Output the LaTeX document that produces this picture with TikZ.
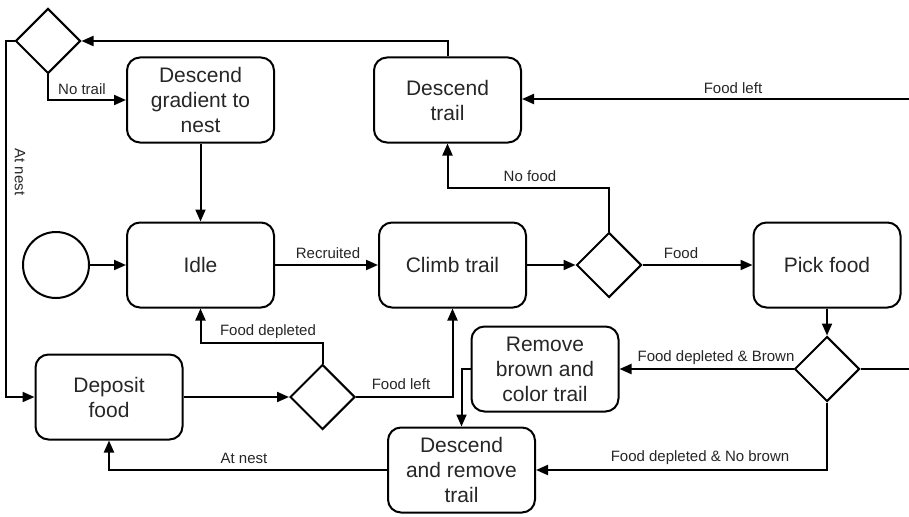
\documentclass[tikz,border=0pt]{standalone}
\usepackage{fontspec}
\setmainfont{Liberation Sans}
\usetikzlibrary{shapes.geometric,arrows.meta}
\begin{document}
\begin{tikzpicture}[x=1pt,y=-1pt,
 state/.style={draw,line width=2pt,rounded corners=13pt,minimum width=147pt,minimum height=85pt,align=center,font=\fontsize{21}{25}\selectfont,inner sep=0pt,text=black!85},
 choice/.style={draw,diamond,line width=2pt,minimum width=65pt,minimum height=65pt,inner sep=0pt},
 conn/.style={line width=2pt},
 arr/.style={conn,-{Triangle[length=12pt,width=10pt]}},
 lbl/.style={font=\fontsize{15}{18}\selectfont,inner sep=0pt,text=black!85}]
\useasboundingbox (0,0) rectangle (909,516);

% states
\node[state] (DG) at (200.5,100) {Descend\\gradient to\\nest};
\node[state] (DT) at (447.5,100) {Descend\\trail};
\node[state] (ID) at (200.5,265) {Idle};
\node[state] (CT) at (452.5,265) {Climb trail};
\node[state] (PF) at (827,265) {Pick food};
\node[state] (DF) at (109,397) {Deposit\\food};
\node[state] (RB) at (545,369) {Remove\\brown and\\color trail};
\node[state] (DR) at (461.5,470) {Descend\\and remove\\trail};
\node[draw,circle,line width=2pt,minimum size=66pt,inner sep=0pt] (C0) at (56,265) {};

% decisions
\node[choice] (D0) at (48,41) {};
\node[choice] (D1) at (609,265) {};
\node[choice] (D2) at (827,369) {};
\node[choice] (D3) at (322.5,397) {};

% free ends
\coordinate (E1) at (909,99);
\coordinate (E2) at (909,369);
\coordinate (L) at (6,41);

% connectors
\draw[arr] (DT.north) |- (D0.east);
\draw[arr] (D0.south) |- (DG.west);
\draw[arr] (D0.west) -- (L) |- (DF.west);
\draw[arr] (DG.south) -- (ID.north);
\draw[arr] (C0.east) -- (ID.west);
\draw[arr] (ID.east) -- (CT.west);
\draw[arr] (CT.east) -- (D1.west);
\draw[arr] (D1.east) -- (PF.west);
\draw[arr] (D1.north) -- ++(0,-44) -| (DT.south);
\draw[arr] (E1) -- (DT.east |- E1);
\draw[arr] (PF.south) -- (D2.north);
\draw[conn] (D2.east) -- (E2);
\draw[arr] (D2.west) -- (RB.east |- D2.west);
\draw[arr] (D2.south) |- (DR.east);
\draw[arr] (RB.west) -| (DR.north);
\draw[arr] (DR.west) -| (DF.south);
\draw[arr] (DF.east) -- (D3.west);
\draw[arr] (D3.north) -- ++(0,-21) -| (ID.south);
\draw[arr] (D3.east) -| (CT.south);

% labels
\node[lbl] (l1) at (82,89) {No trail};
\node[lbl,rotate=-90] (l2) at (20,172) {At nest};
\node[lbl] (l3) at (530,176) {No food};
\node[lbl] (l4) at (733,88) {Food left};
\node[lbl] (l5) at (328,253) {Recruited};
\node[lbl] (l6) at (681,253) {Food};
\node[lbl] (l7) at (268,332) {Food depleted};
\node[lbl] (l8) at (401,384) {Food left};
\node[lbl] (l9) at (244,458) {At nest};
\node[lbl] (l10) at (716,358) {Food depleted \& Brown};
\node[lbl] (l11) at (700,458) {Food depleted \& No brown};
\end{tikzpicture}
\end{document}
